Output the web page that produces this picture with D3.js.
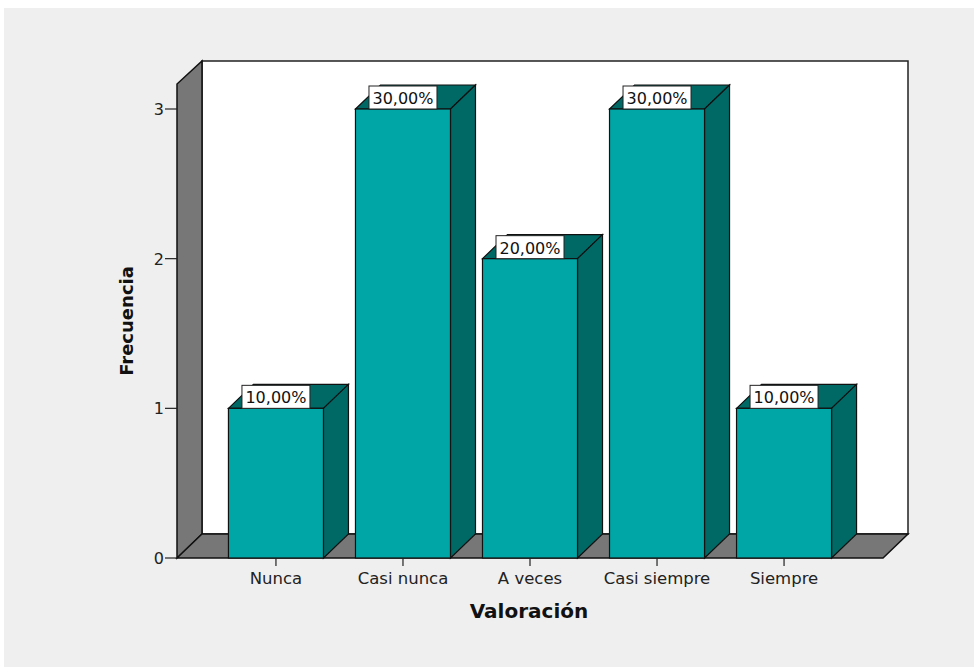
<!DOCTYPE html>
<html><head><meta charset="utf-8">
<script src="https://cdn.jsdelivr.net/npm/d3@7/dist/d3.min.js"></script>
<style>html,body{margin:0;padding:0;background:#fff;}svg{display:block;}</style>
</head><body>
<svg id="chart" width="974" height="667"></svg>
<script>
const categories = ["Nunca", "Casi nunca", "A veces", "Casi siempre", "Siempre"];
const frecuencias = [1, 3, 2, 3, 1];
const porcentajes = ["10,00%", "30,00%", "20,00%", "30,00%", "10,00%"];
const yTicks = [0, 1, 2, 3];

const svg = d3.select("#chart");
const font = "'DejaVu Sans', Verdana, sans-serif";
svg.append("rect").attr("x", 4).attr("y", 8).attr("width", 970).attr("height", 659).attr("fill", "#efefef");

const x0 = 177, x1 = 883, yBase = 558, dx = 25, dy = 24;
const y = d3.scaleLinear().domain([0, 3]).range([yBase, 109]);
const yTopWall = 84;
const x = d3.scaleBand().domain(categories).range([x0, x1]).paddingInner(0.252).paddingOuter(0.405);

const gray = "#777777", front = "#00a6a6", dark = "#006966";
const g = svg.append("g");
// back wall
g.append("polygon").attr("points", [[x0+dx, yTopWall-dy+1],[x1+dx, yTopWall-dy+1],[x1+dx, yBase-dy],[x0+dx, yBase-dy]].join(" "))
  .attr("fill", "#fff").attr("stroke", "#222").attr("stroke-width", 1.5);
// left wall
g.append("polygon").attr("points", [[x0, yBase],[x0, yTopWall],[x0+dx, yTopWall-dy+1],[x0+dx, yBase-dy]].join(" "))
  .attr("fill", gray).attr("stroke", "#111").attr("stroke-width", 1.5);
// floor
g.append("polygon").attr("points", [[x0, yBase],[x0+dx, yBase-dy],[x1+dx, yBase-dy],[x1, yBase]].join(" "))
  .attr("fill", gray).attr("stroke", "#111").attr("stroke-width", 1.5);

// bars
const bw = x.bandwidth();
categories.forEach((c, i) => {
  const bx = x(c), by = y(frecuencias[i]);
  const bg = g.append("g");
  bg.append("polygon").attr("points", [[bx, by],[bx+dx, by-dy],[bx+bw+dx, by-dy],[bx+bw, by]].join(" "))
    .attr("fill", dark).attr("stroke", "#111").attr("stroke-width", 1.2);
  bg.append("polygon").attr("points", [[bx+bw, by],[bx+bw+dx, by-dy],[bx+bw+dx, yBase-dy],[bx+bw, yBase]].join(" "))
    .attr("fill", dark).attr("stroke", "#111").attr("stroke-width", 1.2);
  bg.append("rect").attr("x", bx).attr("y", by).attr("width", bw).attr("height", yBase-by)
    .attr("fill", front).attr("stroke", "#111").attr("stroke-width", 1.2);
  const cx = bx + bw/2;
  bg.append("rect").attr("x", cx-34).attr("y", by-dy+1).attr("width", 68).attr("height", dy-1)
    .attr("fill", "#fff").attr("stroke", "#222").attr("stroke-width", 1);
  bg.append("text").attr("x", cx).attr("y", by-5).attr("text-anchor", "middle")
    .attr("font-family", font).attr("font-size", 16).attr("fill", "#111").text(porcentajes[i]);
});

// y axis
const yAxis = svg.append("g");
yTicks.forEach(t => {
  yAxis.append("line").attr("x1", x0-12).attr("x2", x0).attr("y1", y(t)).attr("y2", y(t)).attr("stroke", "#222").attr("stroke-width", 1.2);
  yAxis.append("text").attr("x", x0-13).attr("y", y(t)+6).attr("text-anchor", "end")
    .attr("font-family", font).attr("font-size", 16).attr("fill", "#222").text(t);
});
// x axis
categories.forEach(c => {
  const cx = x(c) + bw/2;
  svg.append("line").attr("x1", cx).attr("x2", cx).attr("y1", yBase).attr("y2", yBase+8).attr("stroke", "#222").attr("stroke-width", 1.2);
  svg.append("text").attr("x", cx).attr("y", 584).attr("text-anchor", "middle")
    .attr("font-family", font).attr("font-size", 16.5).attr("fill", "#222").text(c);
});

svg.append("text").attr("x", 529).attr("y", 618).attr("text-anchor", "middle")
  .attr("font-family", font).attr("font-size", 20).attr("font-weight", "bold").attr("fill", "#111").text("Valoración");
svg.append("text").attr("transform", "translate(133,321) rotate(-90)").attr("text-anchor", "middle")
  .attr("font-family", font).attr("font-size", 18).attr("font-weight", "bold").attr("fill", "#111").text("Frecuencia");
</script>
</body></html>
